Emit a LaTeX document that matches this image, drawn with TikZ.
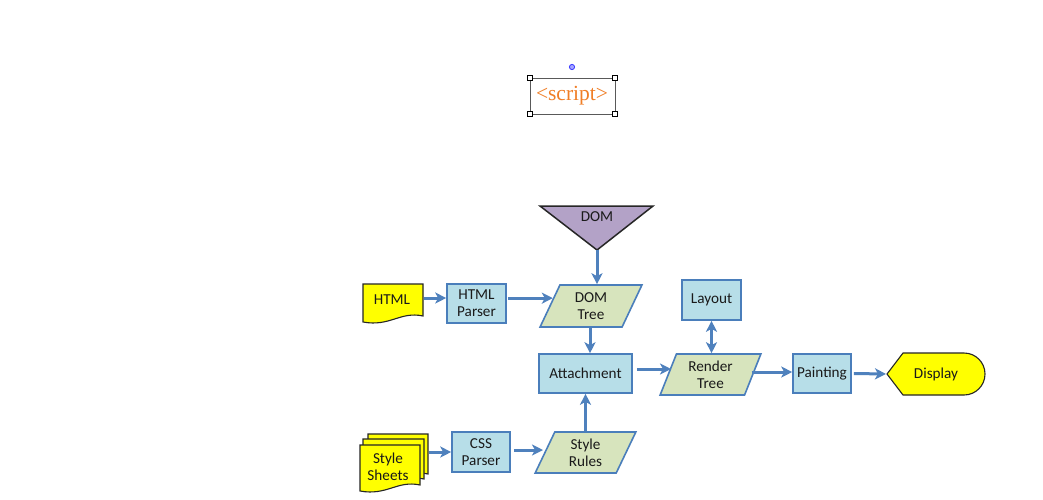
\documentclass[tikz,border=0pt]{standalone}
\usepackage{fontspec}
\setmainfont{Carlito}
\newfontfamily\serifont{Liberation Serif}
\usetikzlibrary{shapes.geometric,arrows.meta,calc}
\definecolor{boxblue}{HTML}{B7DEE8}
\definecolor{boxedge}{HTML}{4A7EBB}
\definecolor{boxgreen}{HTML}{D7E4BD}
\definecolor{arrowblue}{HTML}{4F81BD}
\definecolor{domviolet}{HTML}{B3A2C7}
\definecolor{docyellow}{HTML}{FFFF00}
\definecolor{scriptorange}{HTML}{F07E26}
\definecolor{txt}{HTML}{1A1A1A}
\newcommand\mydocshape[4]{% x y w h (y down)
  \filldraw[docshape] (#1,#2) -- ++(#3,0) -- ++(0,#4-6)
    .. controls ++(-0.38*#3,-5) and ++(0.45*#3,5) .. (#1,#2+#4) -- cycle;}
\tikzset{
  lbl/.style={font=\fontsize{15.2}{18}\selectfont, text=txt, align=center},
  procbox/.style={lbl, rectangle, draw=boxedge, fill=boxblue, line width=1.6pt,
    inner sep=0pt},
  databox/.style={lbl, trapezium, trapezium left angle=69, trapezium right angle=111,
    trapezium stretches=true, draw=boxedge, fill=boxgreen, line width=1.6pt,
    inner sep=0pt},
  docshape/.style={fill=docyellow, draw=black!85, line width=1.1pt},
  tip/.style={Stealth[length=11pt,width=11pt,inset=3pt]},
  flow/.style={draw=arrowblue, line width=3pt, -{Stealth[length=11pt,width=11pt,inset=3pt]}},
  flowboth/.style={draw=arrowblue, line width=3pt,
    {Stealth[length=11pt,width=11pt,inset=3pt]}-{Stealth[length=11pt,width=11pt,inset=3pt]}},
  handle/.style={draw=black, fill=white, line width=0.6pt},
}
\begin{document}
\begin{tikzpicture}[x=1pt,y=-1pt]
\useasboundingbox[fill=white] (0,0) rectangle (1043,499);

% selected <script> text box
\draw[gray!70!black, line width=0.7pt] (530,78) rectangle (615,114);
\foreach \hx/\hy in {530/78,615/78,530/114,615/114}
  \filldraw[handle] (\hx-2.5,\hy-2.5) rectangle (\hx+2.5,\hy+2.5);
\filldraw[fill=blue!35, draw=blue!80, line width=0.8pt] (572,67) circle (2.6);
\node[font=\serifont\fontsize{21.5}{24}\selectfont, text=scriptorange] (script) at (572,96) {<script>};

% DOM triangle
\filldraw[fill=domviolet, draw=black!85, line width=1.5pt] (540,206) -- (653,206) -- (597,250) -- cycle;
\node[lbl] (dom) at (597,217) {DOM};
\coordinate (domtip) at (597,250);

% HTML document
\mydocshape{363}{284}{60}{38}
\node[lbl] (html) at (392,300) {HTML};
\coordinate (htmlR) at (424,298);

% Style sheets (multi-document)
\mydocshape{368}{434}{60}{46}
\mydocshape{363}{439}{61}{46}
\mydocshape{360}{445}{60}{46}
\node[lbl] (sheets) at (388,467) {Style\\[-1pt]Sheets};
\coordinate (sheetsR) at (429,452);

% process boxes
\node[procbox, minimum width=59pt, minimum height=39pt] (hp) at (476.5,303.5) {HTML\\[-1pt]Parser};
\node[procbox, minimum width=93pt, minimum height=39pt] (att) at (585.5,373.5) {Attachment};
\node[procbox, minimum width=59pt, minimum height=40pt] (lay) at (711.5,300) {Layout};
\node[procbox, minimum width=58pt, minimum height=39pt] (pai) at (822,373.5) {Painting};
\node[procbox, minimum width=58pt, minimum height=40pt] (css) at (481,452) {CSS\\[-1pt]Parser};

% data parallelograms
\node[databox, minimum width=102pt, minimum height=42pt] (dt) at (591,306) {DOM\\[-1pt]Tree};
\node[databox, minimum width=101pt, minimum height=41pt] (rt) at (710.5,374.5) {Render\\[-1pt]Tree};
\node[databox, minimum width=101pt, minimum height=41pt] (sr) at (585.5,452.5) {Style\\[-1pt]Rules};

% Display
\filldraw[docshape] (887,374) -- (903,353) -- (964,353) arc (-90:90:21) -- (903,395) -- cycle;
\node[lbl] (disp) at (936,374) {Display};
\coordinate (dispL) at (886,374);

% connectors
\coordinate (dtin) at ($(dt.top left corner)!0.32!(dt.bottom left corner)$);
\draw[flow] (domtip) -- (domtip |- dt.north);
\draw[flow] (htmlR) -- (htmlR -| hp.west);
\draw[flow] ($(hp.east |- dtin)+(1,0)$) -- (dtin);
\draw[flow] (dt.south -| 590,0) -- (590,0 |- att.north);
\draw[flow] ($(att.east |- 0,369)+(4,0)$) -- (671,369);
\draw[flowboth] (lay.south) -- (lay.south |- rt.north);
\draw[flow] ($(rt.east |- 0,372)+(-2,0)$) -- (pai.west |- 0,372);
\draw[flow] ($(pai.east)+(2,0)$) -- (dispL);
\draw[flow] (sheetsR) -- (sheetsR -| css.west);
\draw[flow] ($(css.east |- 0,450)+(3,0)$) -- (543,450);
\draw[flow] (sr.north) -- (sr.north |- att.south);
\end{tikzpicture}
\end{document}
